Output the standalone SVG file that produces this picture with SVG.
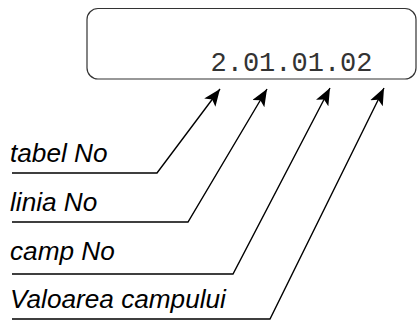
<svg xmlns="http://www.w3.org/2000/svg" width="418" height="323" viewBox="0 0 418 323">
<style>
.lbl{font-family:"Liberation Sans",Arial,sans-serif;font-style:italic;font-size:26.2px;fill:#000}
.code{font-family:"Liberation Mono","Courier New",monospace;font-size:27px;fill:#333}
.conn{fill:none;stroke:#000;stroke-width:1.4}
</style>
<defs>
<marker id="ah" markerUnits="userSpaceOnUse" markerWidth="20" markerHeight="16" refX="17" refY="7" orient="auto">
<path d="M0,0 L17,7 L0,14 L4,7 Z" fill="#000"/>
</marker>
</defs>
<g id="box">
<rect x="87" y="8.5" width="329" height="70.5" rx="11" ry="11" fill="#fff" stroke="#333" stroke-width="1.2"/>
<text class="code" x="210.5" y="71">2.01.01.02</text>
</g>
<g id="label-tabel"><text class="lbl" x="10" y="162">tabel No</text></g>
<g id="label-linia"><text class="lbl" x="10" y="211">linia No</text></g>
<g id="label-camp"><text class="lbl" x="10" y="260">camp No</text></g>
<g id="label-valoarea"><text class="lbl" x="10" y="308">Valoarea campului</text></g>
<g id="connectors">
<polyline class="conn" points="12,173 157,173 220,89" marker-end="url(#ah)"/>
<polyline class="conn" points="12,222 188,222 267,89" marker-end="url(#ah)"/>
<polyline class="conn" points="12,274 233,274 330,88" marker-end="url(#ah)"/>
<polyline class="conn" points="12,319 270,319 384,88" marker-end="url(#ah)"/>
</g>
</svg>
